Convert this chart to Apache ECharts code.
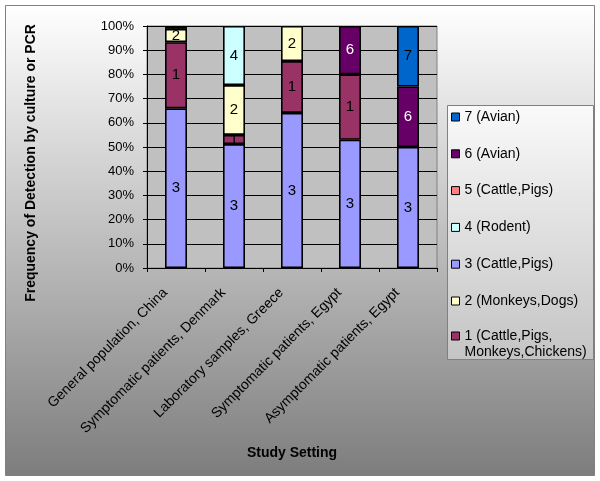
<!DOCTYPE html>
<html>
<head>
<meta charset="utf-8">
<script src="https://cdn.jsdelivr.net/npm/echarts@6/dist/echarts.min.js"></script>
<style>html,body{margin:0;padding:0;background:#fff;}#c{width:600px;height:481px;}</style>
</head>
<body>
<div id="c"></div>
<script>
const categories = ['General population, China', 'Symptomatic patients, Denmark', 'Laboratory samples, Greece', 'Symptomatic patients, Egypt', 'Asymptomatic patients, Egypt'];
const yTicks = [0, 10, 20, 30, 40, 50, 60, 70, 80, 90, 100];
// percent values per subtype (stacked bottom to top: 3, 1, 2, 4, 5, 6, 7)
const st3 = [66.0, 51.2, 64.1, 53.0, 50.0];
const st1 = [27.3, 3.8, 21.4, 27.0, null];
const st2 = [5.5, 20.6, 14.5, null, null];
const st4 = [null, 24.4, null, null, null];
const st5 = [null, null, null, null, null];
const st6 = [1.2, null, null, 20.0, 25.0];
const st7 = [null, null, null, null, 25.0];
const seriesNames = {
  '1': '1 (Cattle,Pigs,\nMonkeys,Chickens)',
  '2': '2 (Monkeys,Dogs)',
  '3': '3 (Cattle,Pigs)',
  '4': '4 (Rodent)',
  '5': '5 (Cattle,Pigs)',
  '6': '6 (Avian)',
  '7': '7 (Avian)'
};
const colors = {'1':'#993366','2':'#FFFFCC','3':'#9999FF','4':'#CCFFFF','5':'#FF8080','6':'#660066','7':'#0066CC'};
const labelColors = {'1':'#000','2':'#000','3':'#000','4':'#000','5':'#000','6':'#fff','7':'#000'};
const stackOrder = [['3', st3], ['1', st1], ['2', st2], ['4', st4], ['5', st5], ['6', st6], ['7', st7]];
const legendOrder = ['7','6','5','4','3','2'];
const legendLast = ['1'];

const FONT = 'Liberation Sans, Arial, sans-serif';
const chart = echarts.init(document.getElementById('c'), null, {renderer: 'canvas'});

function vgrad(c0, c1) {
  return {type: 'linear', x: 0, y: 0, x2: 0, y2: 1, global: false,
    colorStops: [{offset: 0, color: c0}, {offset: 1, color: c1}]};
}

const series = stackOrder.map(([k, arr]) => ({
  name: seriesNames[k],
  type: 'bar',
  stack: 'total',
  barWidth: 22,
  data: arr,
  itemStyle: {color: colors[k], borderColor: '#000', borderWidth: 1.6},
  label: {
    show: true,
    position: 'inside',
    fontFamily: FONT,
    fontSize: 15,
    color: labelColors[k],
    formatter: p => (p.value != null && p.value >= 2) ? k : ''
  },
  emphasis: {disabled: true}
}));

const legendCommon = {
  orient: 'vertical',
  left: 451,
  padding: 0,
  itemWidth: 8,
  itemHeight: 8,
  itemGap: 20.8,
  icon: 'rect',
  itemStyle: {borderColor: '#000', borderWidth: 1},
  textStyle: {fontFamily: FONT, fontSize: 14, color: '#000', lineHeight: 16},
  selectedMode: false
};

chart.setOption({
  animation: false,
  backgroundColor: '#ffffff',
  graphic: [
    {type: 'rect', z: -1, shape: {x: 5.5, y: 5.5, width: 589, height: 470},
     style: {fill: vgrad('#ffffff', '#7d7d7d'), stroke: '#808080', lineWidth: 1}, silent: true},
    {type: 'rect', z: -1, shape: {x: 447.5, y: 105.5, width: 146, height: 254},
     style: {fill: vgrad('#fafafa', '#c4c4c4'), stroke: '#808080', lineWidth: 1}, silent: true}
  ],
  grid: {left: 147, right: 163, top: 26, bottom: 213, show: true, backgroundColor: '#C0C0C0', borderColor: '#808080', borderWidth: 1},
  legend: [
    Object.assign({}, legendCommon, {top: 109, data: legendOrder.map(k => seriesNames[k])}),
    Object.assign({}, legendCommon, {top: 312, data: legendLast.map(k => seriesNames[k]),
      formatter: name => '\n' + name})
  ],
  xAxis: {
    type: 'category',
    data: categories,
    name: 'Study Setting',
    nameLocation: 'middle',
    nameGap: 178,
    nameTextStyle: {fontFamily: FONT, fontSize: 14, fontWeight: 'bold', color: '#000'},
    axisLine: {lineStyle: {color: '#000', width: 1}},
    axisTick: {show: true, alignWithLabel: false, length: 4, lineStyle: {color: '#000'}},
    axisLabel: {rotate: 45, interval: 0, fontFamily: FONT, fontSize: 14, color: '#000', margin: 12, padding: [4, 15, 0, 0]},
    splitLine: {show: false}
  },
  yAxis: {
    type: 'value',
    min: 0,
    max: 100,
    interval: 10,
    name: 'Frequency of Detection by culture or PCR',
    nameLocation: 'middle',
    nameRotate: 90,
    nameGap: 109,
    nameTextStyle: {fontFamily: FONT, fontSize: 14, fontWeight: 'bold', color: '#000', padding: [0, 32, 0, 0]},
    axisLine: {show: true, lineStyle: {color: '#000', width: 1}},
    axisTick: {show: true, length: 4, lineStyle: {color: '#000'}},
    axisLabel: {fontFamily: FONT, fontSize: 13, color: '#000', margin: 13,
      formatter: v => yTicks.indexOf(v) >= 0 ? v + '%' : ''},
    splitLine: {show: true, lineStyle: {color: '#000', width: 1}}
  },
  series: series
});
</script>
</body>
</html>
